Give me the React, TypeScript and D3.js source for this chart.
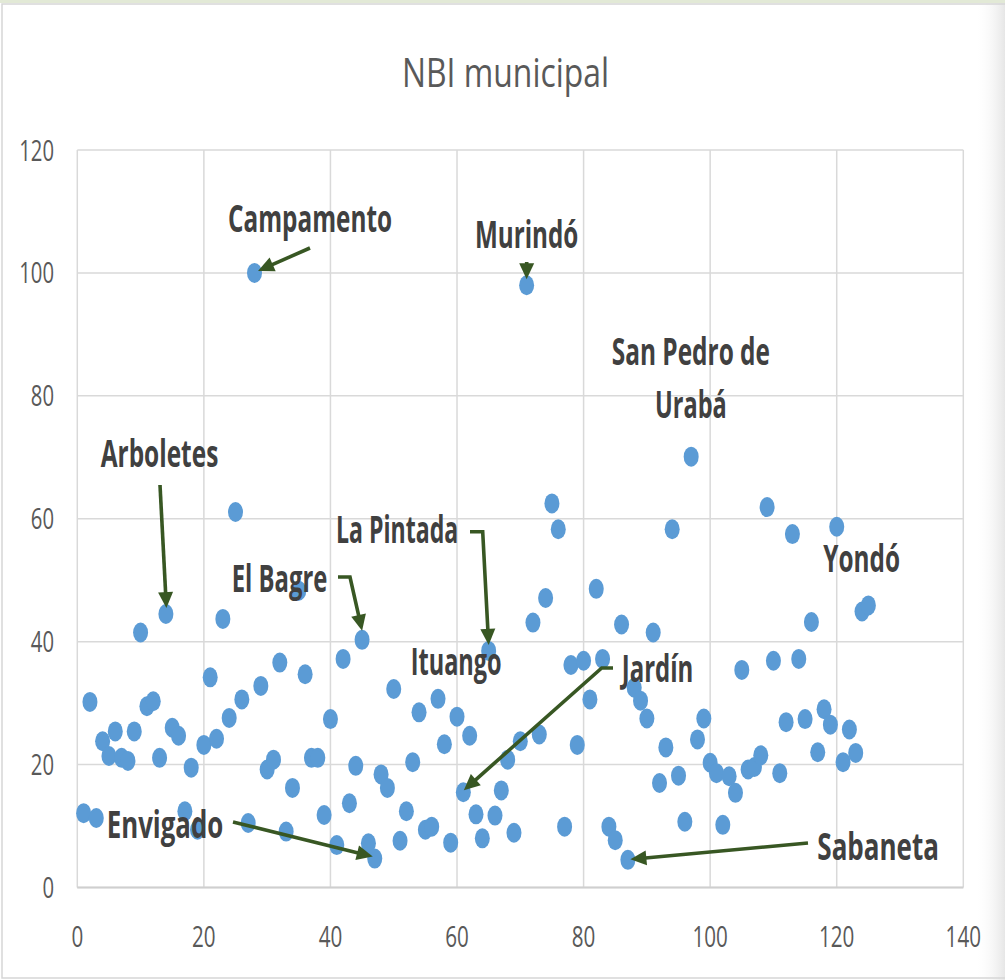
import React from 'react';
import * as d3 from 'd3';

const W = 1005;
const H = 980;

const chartTitle = 'NBI municipal';

const municipio = [
  1, 2, 3, 4, 5, 6, 7, 8, 9, 10,
  11, 12, 13, 14, 15, 16, 17, 18, 19, 20,
  21, 22, 23, 24, 25, 26, 27, 28, 29, 30,
  31, 32, 33, 34, 35, 36, 37, 38, 39, 40,
  41, 42, 43, 44, 45, 46, 47, 48, 49, 50,
  51, 52, 53, 54, 55, 56, 57, 58, 59, 60,
  61, 62, 63, 64, 65, 66, 67, 68, 69, 70,
  71, 72, 73, 74, 75, 76, 77, 78, 79, 80,
  81, 82, 83, 84, 85, 86, 87, 88, 89, 90,
  91, 92, 93, 94, 95, 96, 97, 98, 99, 100,
  101, 102, 103, 104, 105, 106, 107, 108, 109, 110,
  111, 112, 113, 114, 115, 116, 117, 118, 119, 120,
  121, 122, 123, 124, 125,
];

const nbi = [
  12.1, 30.2, 11.3, 23.8, 21.4, 25.4, 21.1, 20.6, 25.4, 41.5,
  29.5, 30.3, 21.1, 44.5, 26.0, 24.7, 12.4, 19.5, 9.4, 23.2,
  34.2, 24.2, 43.7, 27.6, 61.1, 30.6, 10.5, 100, 32.8, 19.2,
  20.8, 36.6, 9.1, 16.2, 48.3, 34.7, 21.1, 21.1, 11.8, 27.4,
  6.9, 37.2, 13.7, 19.8, 40.3, 7.2, 4.7, 18.4, 16.2, 32.3,
  7.6, 12.4, 20.4, 28.5, 9.4, 9.9, 30.7, 23.3, 7.3, 27.8,
  15.5, 24.7, 11.9, 8.0, 38.5, 11.7, 15.8, 20.8, 8.9, 23.8,
  98.0, 43.1, 24.9, 47.1, 62.5, 58.3, 9.9, 36.2, 23.2, 36.9,
  30.6, 48.6, 37.2, 9.9, 7.7, 42.8, 4.5, 32.5, 30.4, 27.5,
  41.5, 17.0, 22.8, 58.3, 18.2, 10.7, 70.1, 24.1, 27.5, 20.3,
  18.6, 10.2, 18.1, 15.4, 35.4, 19.2, 19.6, 21.5, 61.9, 36.9,
  18.6, 26.9, 57.5, 37.2, 27.4, 43.2, 22.0, 29.0, 26.5, 58.7,
  20.4, 25.7, 21.9, 44.9, 45.9,
];

const xTicks = [0, 20, 40, 60, 80, 100, 120, 140];
const yTicks = [0, 20, 40, 60, 80, 100, 120];

type Ann = {
  id?: number;
  lines: string[];
  lx: number[];
  ly: number[];
  lw: number[];
  path?: [number, number][];
  tip?: [number, number];
};

const annotations: Ann[] = [
  { id: 28, lines: ['Campamento'], lx: [228], ly: [231.7], lw: [164], path: [[310, 248]], tip: [3.5, -2] },
  { id: 71, lines: ['Murindó'], lx: [475], ly: [248.3], lw: [103.3], path: [[526.7, 262]], tip: [0, -6] },
  { lines: ['San Pedro de', 'Urabá'], lx: [611.7, 655], ly: [365, 418.3], lw: [158.3, 71.7] },
  { id: 14, lines: ['Arboletes'], lx: [100.7], ly: [466.7], lw: [117.6], path: [[160, 485]], tip: [0.5, -6] },
  { id: 45, lines: ['El Bagre'], lx: [231.7], ly: [591.7], lw: [95.6], path: [[338, 577], [350, 577]], tip: [0, -9] },
  { id: 65, lines: ['La Pintada'], lx: [336], ly: [543.3], lw: [122.3], path: [[470, 531.7], [482.7, 531.7]], tip: [0, -6] },
  { lines: ['Ituango'], lx: [410.7], ly: [675], lw: [91] },
  { id: 61, lines: ['Jardín'], lx: [621.7], ly: [681.7], lw: [71.6], path: [[613, 668], [601.7, 668]], tip: [0.5, -2] },
  { id: 47, lines: ['Envigado'], lx: [106.7], ly: [838.3], lw: [116.6], path: [[233, 822]], tip: [-2, -2] },
  { id: 87, lines: ['Sabaneta'], lx: [817.3], ly: [860], lw: [121.7], path: [[808, 843]], tip: [2.5, -0.5] },
  { lines: ['Yondó'], lx: [823.3], ly: [571.7], lw: [76.7] },
];

const ARROW = '#385723';
const FONT = '"Open Sans", "Liberation Sans", sans-serif';

function Arrow({ pts }: { pts: [number, number][] }) {
  const n = pts.length;
  const [tx, ty] = pts[n - 1];
  const [px, py] = pts[n - 2];
  const dx = tx - px, dy = ty - py;
  const len = Math.hypot(dx, dy);
  const ux = dx / len, uy = dy / len;
  const L = Math.min(16, len);
  const hw = 7.5;
  const bx = tx - ux * L, by = ty - uy * L;
  const linePts = pts.slice(0, n - 1).concat([[bx + ux * 1, by + uy * 1]]);
  const line = d3.line()(linePts as [number, number][]) || '';
  const head = `M${tx},${ty}L${bx - uy * hw},${by + ux * hw}L${bx + uy * hw},${by - ux * hw}Z`;
  return (
    <g>
      {len > L + 0.5 || n > 2 ? (
        <path d={line} fill="none" stroke={ARROW} strokeWidth={3.6} strokeLinejoin="miter" />
      ) : null}
      <path d={head} fill={ARROW} />
    </g>
  );
}

export default function App() {
  const x = d3.scaleLinear().domain([0, 140]).range([77.3, 963.3]);
  const y = d3.scaleLinear().domain([0, 120]).range([887.5, 150]);
  const pts = municipio.map((m, i) => ({ m, v: nbi[i] }));

  return (
    <svg
      width={W}
      height={H}
      viewBox={`0 0 ${W} ${H}`}
      style={{ position: 'absolute', left: 0, top: 0, display: 'block', background: '#fff' }}
    >
      <defs>
        <linearGradient id="shade" x1="0" x2="1" y1="0" y2="0">
          <stop offset="0" stopColor="#ffffff" stopOpacity={0} />
          <stop offset="1" stopColor="#e6e6e6" stopOpacity={1} />
        </linearGradient>
      </defs>
      <rect x={0} y={0} width={W} height={H} fill="#fff" />
      <rect x={975} y={0} width={30} height={H} fill="url(#shade)" />
      <rect x={0} y={0} width={W} height={3} fill="#e2e9d6" />
      <rect x={2} y={4} width={W + 10} height={974} fill="none" stroke="#d6d6d6" strokeWidth={1.5} />

      <text
        x={402}
        y={87}
        fontFamily={FONT}
        fontSize={40}
        fill="#595959"
        textLength={207}
        lengthAdjust="spacingAndGlyphs"
      >
        {chartTitle}
      </text>

      {/* gridlines */}
      <g stroke="#d9d9d9" strokeWidth={1.5}>
        {yTicks.map((t) => (
          <line key={'gy' + t} x1={x(0)} x2={x(140)} y1={y(t)} y2={y(t)} />
        ))}
        {xTicks.map((t) => (
          <line key={'gx' + t} x1={x(t)} x2={x(t)} y1={y(0)} y2={y(120)} />
        ))}
      </g>
      <line x1={x(0)} x2={x(140)} y1={y(0)} y2={y(0)} stroke="#cfcfcf" strokeWidth={2} />

      {/* tick labels */}
      <g fontFamily={FONT} fontSize={30} fill="#595959">
        {yTicks.map((t) => {
          const s = String(t);
          return (
            <text
              key={'ty' + t}
              x={54}
              y={y(t) + 10.5}
              textAnchor="end"
              textLength={s.length * 11.6}
              lengthAdjust="spacingAndGlyphs"
            >
              {s}
            </text>
          );
        })}
        {xTicks.map((t) => {
          const s = String(t);
          const w = s.length * 11.8;
          return (
            <text
              key={'tx' + t}
              x={x(t) - w / 2}
              y={946.7}
              textLength={w}
              lengthAdjust="spacingAndGlyphs"
            >
              {s}
            </text>
          );
        })}
      </g>

      {/* points */}
      <g fill="#5B9BD5">
        {pts.map((p) => (
          <ellipse key={'p' + p.m} cx={x(p.m)} cy={y(p.v)} rx={7.5} ry={10} />
        ))}
      </g>

      {/* annotations */}
      <g fontFamily={FONT} fontWeight={700} fontSize={37} fill="#404040">
        {annotations.map((a, i) =>
          a.lines.map((ln, j) => (
            <text
              key={'a' + i + '_' + j}
              x={a.lx[j]}
              y={a.ly[j]}
              textLength={a.lw[j]}
              lengthAdjust="spacingAndGlyphs"
            >
              {ln}
            </text>
          ))
        )}
      </g>
      <g>
        {annotations
          .filter((a) => a.path && a.id !== undefined)
          .map((a, i) => {
            const idx = municipio.indexOf(a.id as number);
            const tip: [number, number] = [
              x(municipio[idx]) + (a.tip ? a.tip[0] : 0),
              y(nbi[idx]) + (a.tip ? a.tip[1] : 0),
            ];
            return <Arrow key={'ar' + i} pts={[...(a.path as [number, number][]), tip]} />;
          })}
      </g>
    </svg>
  );
}
